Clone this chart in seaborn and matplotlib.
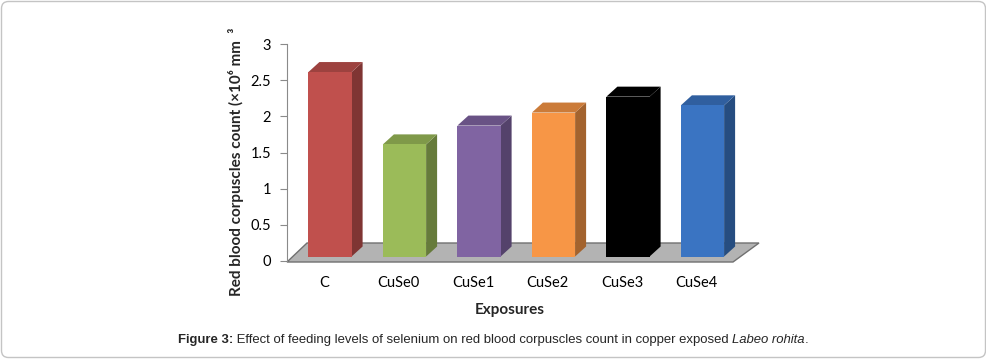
import numpy as np
import pandas as pd
import seaborn as sns
import matplotlib.pyplot as plt
import matplotlib.transforms as mtransforms
from matplotlib.patches import Polygon, FancyBboxPatch
from matplotlib.colors import to_rgb

# data
categories    = ['C', 'CuSe0', 'CuSe1', 'CuSe2', 'CuSe3', 'CuSe4']
rbc_count     = [2.55, 1.55, 1.81, 1.99, 2.21, 2.09]
y_ticks       = [0, 0.5, 1, 1.5, 2, 2.5, 3]
y_tick_labels = ['0', '0.5', '1', '1.5', '2', '2.5', '3']
bar_colors    = ['#c0504d', '#9bbb59', '#8064a2', '#f79646', '#000000', '#3a74c2']

sns.set_theme(style='white')
plt.rcParams['font.family'] = ['Lato', 'DejaVu Sans']

W, H = 987, 359
fig = plt.figure(figsize=(W / 100, H / 100), dpi=100)

# axes placed in pixel terms
ax_left, ax_right, ax_bottom, ax_top = 287, 760, 261, 44
ax = fig.add_axes([ax_left / W, 1 - ax_bottom / H,
                   (ax_right - ax_left) / W, (ax_bottom - ax_top) / H])

px_x = 74.5                     # pixels per category step
px_y = (ax_bottom - ax_top) / 3 # pixels per unit
x0_px = 330                     # centre of first bar face

def to_x(px):
    return (px - x0_px) / px_x

def to_y(px):
    return (ax_bottom - px) / px_y

# depth of the 3d look
DX, DY = 11 / px_x, 10 / px_y
BASE = 4.5 / px_y

# floor
floor = Polygon([(to_x(287), to_y(262)), (to_x(733), to_y(262)),
                 (to_x(759), to_y(243)), (to_x(307), to_y(243))],
                closed=True, facecolor='#b3b3b3', edgecolor='#707070',
                lw=1.0, zorder=1, clip_on=False)
ax.add_patch(floor)

df = pd.DataFrame({'group': categories, 'rbc': rbc_count})
sns.barplot(data=df, x='group', y='rbc', hue='group', order=categories,
            palette=bar_colors, saturation=1, width=0.58, legend=False,
            ax=ax, zorder=3)

for cont, col in zip(ax.containers, bar_colors):
    for bar in cont:
        bar.set_y(BASE)
        bar.set_edgecolor('none')
        bar.set_clip_on(False)
        x, w, h = bar.get_x(), bar.get_width(), bar.get_height()
        rgb = np.array(to_rgb(col))
        side = Polygon([(x + w, BASE), (x + w + DX, BASE + DY),
                        (x + w + DX, BASE + h + DY), (x + w, BASE + h)],
                       closed=True, facecolor=rgb * 0.66, edgecolor='none',
                       zorder=2.9, clip_on=False)
        top = Polygon([(x, BASE + h), (x + w, BASE + h),
                       (x + w + DX, BASE + h + DY), (x + DX, BASE + h + DY)],
                      closed=True, facecolor=rgb * 0.82, edgecolor='none',
                      zorder=2.9, clip_on=False)
        ax.add_patch(side)
        ax.add_patch(top)

ax.set_xlim(to_x(ax_left), to_x(ax_right))
ax.set_ylim(0, 3)
ax.set_yticks(y_ticks, y_tick_labels)
ax.set_xlabel('')
ax.set_ylabel('')
ax.patch.set_alpha(0)

for s in ['top', 'right', 'bottom']:
    ax.spines[s].set_visible(False)
ax.spines['left'].set_color('#8a8a8a')
ax.spines['left'].set_linewidth(0.8)

ax.tick_params(axis='y', left=True, length=5, width=0.8, color='#8a8a8a',
               pad=6.5, labelsize=10.5, labelcolor='black')
ax.tick_params(axis='x', length=0, pad=11, labelsize=10.5, labelcolor='black')
shift = mtransforms.ScaledTranslation(-6 / 100, 0, fig.dpi_scale_trans)
for lab in ax.get_xticklabels():
    lab.set_transform(lab.get_transform() + shift)

fig.text(510 / W, 1 - 310 / H, 'Exposures', ha='center', va='center',
         fontsize=11, fontweight='bold')
fig.text(236 / W, 1 - 161.5 / H, 'Red blood corpuscles count (×10⁶ mm  ³',
         rotation=90, ha='center', va='center', fontsize=11, fontweight='bold')

# caption, pieces laid out one after another
fig.canvas.draw()
renderer = fig.canvas.get_renderer()
cap_parts = [('Figure 3:', 'bold', 'normal'),
             (' Effect of feeding levels of selenium on red blood corpuscles count in copper exposed ', 'normal', 'normal'),
             ('Labeo rohita', 'normal', 'italic'),
             ('.', 'normal', 'normal')]
cx = 178
for txt, wt, st in cap_parts:
    t = fig.text(cx / W, 1 - 340 / H, txt, ha='left', va='center', fontsize=9.45,
                 fontweight=wt, fontstyle=st, family=['Liberation Sans', 'DejaVu Sans'])
    bb = t.get_window_extent(renderer)
    cx = bb.x1

border = FancyBboxPatch((1.5, 1.5), W - 3, H - 3,
                        boxstyle='round,pad=0,rounding_size=7',
                        transform=mtransforms.IdentityTransform(),
                        fill=False, edgecolor='#c4c4c4', lw=1.0)
fig.add_artist(border)

fig.savefig('out.png', dpi=100)
